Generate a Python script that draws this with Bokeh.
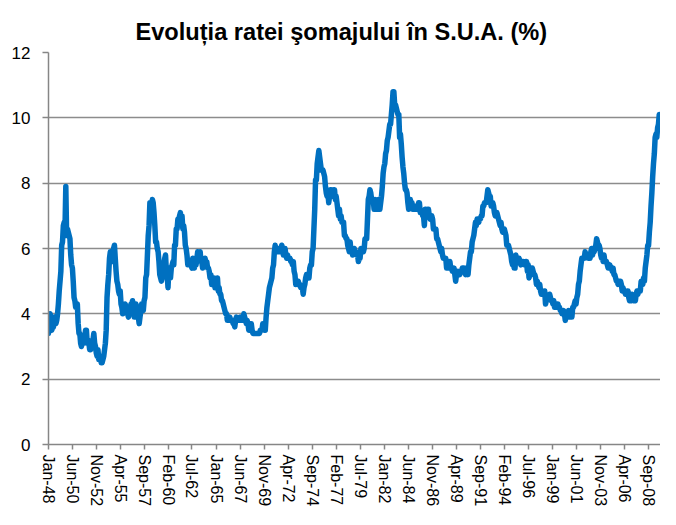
import numpy as np
from bokeh.plotting import figure
from bokeh.models import FixedTicker, Range1d
from bokeh.embed import file_html
from bokeh.resources import INLINE

# Monthly US unemployment rate (%), Jan 1948 - Nov 2009
rate_1948_1957 = [
    3.4, 3.8, 4.0, 3.9, 3.5, 3.6, 3.6, 3.9, 3.8, 3.7, 3.8, 4.0,
    4.3, 4.7, 5.0, 5.3, 6.1, 6.2, 6.7, 6.8, 6.6, 7.9, 6.4, 6.6,
    6.5, 6.4, 6.3, 5.8, 5.5, 5.4, 5.0, 4.5, 4.4, 4.2, 4.2, 4.3,
    3.7, 3.4, 3.4, 3.1, 3.0, 3.2, 3.1, 3.1, 3.3, 3.5, 3.5, 3.1,
    3.2, 3.1, 2.9, 2.9, 3.0, 3.0, 3.2, 3.4, 3.1, 3.0, 2.8, 2.7,
    2.9, 2.6, 2.6, 2.7, 2.5, 2.5, 2.6, 2.7, 2.9, 3.1, 3.5, 4.5,
    4.9, 5.2, 5.7, 5.9, 5.9, 5.6, 5.8, 6.0, 6.1, 5.7, 5.3, 5.0,
    4.9, 4.7, 4.6, 4.7, 4.3, 4.2, 4.0, 4.2, 4.1, 4.3, 4.2, 4.2,
    4.0, 3.9, 4.2, 4.0, 4.3, 4.3, 4.4, 4.1, 3.9, 3.9, 4.3, 4.2,
    4.2, 3.9, 3.7, 3.9, 4.1, 4.3, 4.2, 4.1, 4.4, 4.5, 5.1, 5.2,
]
rate_1958_1967 = [
    5.8, 6.4, 6.7, 7.4, 7.4, 7.3, 7.5, 7.4, 7.1, 6.7, 6.2, 6.2,
    6.0, 5.9, 5.6, 5.2, 5.1, 5.0, 5.1, 5.2, 5.5, 5.7, 5.8, 5.3,
    5.2, 4.8, 5.4, 5.2, 5.1, 5.4, 5.5, 5.6, 5.5, 6.1, 6.1, 6.6,
    6.6, 6.9, 6.9, 7.0, 7.1, 6.9, 7.0, 6.6, 6.7, 6.5, 6.1, 6.0,
    5.8, 5.5, 5.6, 5.6, 5.5, 5.5, 5.4, 5.7, 5.6, 5.4, 5.7, 5.5,
    5.7, 5.9, 5.7, 5.7, 5.9, 5.6, 5.6, 5.4, 5.5, 5.5, 5.7, 5.5,
    5.6, 5.4, 5.4, 5.3, 5.1, 5.2, 4.9, 5.0, 5.1, 5.1, 4.8, 5.0,
    4.9, 5.1, 4.7, 4.8, 4.6, 4.6, 4.4, 4.4, 4.3, 4.2, 4.1, 4.0,
    4.0, 3.8, 3.8, 3.8, 3.9, 3.8, 3.8, 3.8, 3.7, 3.7, 3.6, 3.8,
    3.9, 3.8, 3.8, 3.8, 3.8, 3.9, 3.8, 3.8, 3.8, 4.0, 3.9, 3.8,
]
rate_1968_1977 = [
    3.7, 3.8, 3.7, 3.5, 3.5, 3.7, 3.7, 3.5, 3.4, 3.4, 3.4, 3.4,
    3.4, 3.4, 3.4, 3.4, 3.4, 3.5, 3.5, 3.5, 3.7, 3.7, 3.5, 3.5,
    3.9, 4.2, 4.4, 4.6, 4.8, 4.9, 5.0, 5.1, 5.4, 5.5, 5.9, 6.1,
    5.9, 5.9, 6.0, 5.9, 5.9, 5.9, 6.0, 6.1, 6.0, 5.8, 6.0, 6.0,
    5.8, 5.7, 5.8, 5.7, 5.7, 5.7, 5.6, 5.6, 5.5, 5.6, 5.3, 5.2,
    4.9, 5.0, 4.9, 5.0, 4.9, 4.9, 4.8, 4.8, 4.8, 4.6, 4.8, 4.9,
    5.1, 5.2, 5.1, 5.1, 5.1, 5.4, 5.5, 5.5, 5.9, 6.0, 6.6, 7.2,
    8.1, 8.1, 8.6, 8.8, 9.0, 8.8, 8.6, 8.4, 8.4, 8.4, 8.3, 8.2,
    7.9, 7.7, 7.6, 7.7, 7.4, 7.6, 7.8, 7.8, 7.6, 7.7, 7.8, 7.8,
    7.5, 7.6, 7.4, 7.2, 7.0, 7.2, 6.9, 7.0, 6.8, 6.8, 6.8, 6.4,
]
rate_1978_1987 = [
    6.4, 6.3, 6.3, 6.1, 6.0, 5.9, 6.2, 5.9, 6.0, 5.8, 5.9, 6.0,
    5.9, 5.9, 5.8, 5.8, 5.6, 5.7, 5.7, 6.0, 5.9, 6.0, 5.9, 6.0,
    6.3, 6.3, 6.3, 6.9, 7.5, 7.6, 7.8, 7.7, 7.5, 7.5, 7.5, 7.2,
    7.5, 7.4, 7.4, 7.2, 7.5, 7.5, 7.2, 7.4, 7.6, 7.9, 8.3, 8.5,
    8.6, 8.9, 9.0, 9.3, 9.4, 9.6, 9.8, 9.8, 10.1, 10.4, 10.8, 10.8,
    10.4, 10.4, 10.3, 10.2, 10.1, 10.1, 9.4, 9.5, 9.2, 8.8, 8.5, 8.3,
    8.0, 7.8, 7.8, 7.7, 7.4, 7.2, 7.5, 7.5, 7.3, 7.4, 7.2, 7.3,
    7.3, 7.2, 7.2, 7.3, 7.2, 7.4, 7.4, 7.1, 7.1, 7.1, 7.0, 7.0,
    6.7, 7.2, 7.2, 7.1, 7.2, 7.2, 7.0, 6.9, 7.0, 7.0, 6.9, 6.6,
    6.6, 6.6, 6.6, 6.3, 6.3, 6.2, 6.1, 6.0, 5.9, 6.0, 5.8, 5.7,
]
rate_1988_1997 = [
    5.7, 5.7, 5.7, 5.4, 5.6, 5.4, 5.4, 5.6, 5.4, 5.4, 5.3, 5.3,
    5.4, 5.2, 5.0, 5.2, 5.2, 5.3, 5.2, 5.2, 5.3, 5.3, 5.4, 5.4,
    5.4, 5.3, 5.2, 5.4, 5.4, 5.2, 5.5, 5.7, 5.9, 5.9, 6.2, 6.3,
    6.4, 6.6, 6.8, 6.7, 6.9, 6.9, 6.8, 6.9, 6.9, 7.0, 7.0, 7.3,
    7.3, 7.4, 7.4, 7.4, 7.6, 7.8, 7.7, 7.6, 7.6, 7.3, 7.4, 7.4,
    7.3, 7.1, 7.0, 7.1, 7.1, 7.0, 6.9, 6.8, 6.7, 6.8, 6.6, 6.5,
    6.6, 6.6, 6.5, 6.4, 6.1, 6.1, 6.1, 6.0, 5.9, 5.8, 5.6, 5.5,
    5.6, 5.4, 5.4, 5.8, 5.6, 5.6, 5.7, 5.7, 5.6, 5.5, 5.6, 5.6,
    5.6, 5.5, 5.5, 5.6, 5.6, 5.3, 5.5, 5.1, 5.2, 5.2, 5.4, 5.4,
    5.3, 5.2, 5.2, 5.1, 4.9, 5.0, 4.9, 4.8, 4.9, 4.7, 4.6, 4.7,
]
rate_1998_2009 = [
    4.6, 4.6, 4.7, 4.3, 4.4, 4.5, 4.5, 4.5, 4.6, 4.5, 4.4, 4.4,
    4.3, 4.4, 4.2, 4.3, 4.2, 4.3, 4.3, 4.2, 4.2, 4.1, 4.1, 4.0,
    4.0, 4.1, 4.0, 3.8, 4.0, 4.0, 4.0, 4.1, 3.9, 3.9, 3.9, 3.9,
    4.2, 4.2, 4.3, 4.4, 4.3, 4.5, 4.6, 4.9, 5.0, 5.3, 5.5, 5.7,
    5.7, 5.7, 5.7, 5.9, 5.8, 5.8, 5.8, 5.7, 5.7, 5.7, 5.9, 6.0,
    5.8, 5.9, 5.9, 6.0, 6.1, 6.3, 6.2, 6.1, 6.1, 6.0, 5.8, 5.7,
    5.7, 5.6, 5.8, 5.6, 5.6, 5.6, 5.5, 5.4, 5.4, 5.5, 5.4, 5.4,
    5.3, 5.4, 5.2, 5.2, 5.1, 5.0, 5.0, 4.9, 5.0, 5.0, 5.0, 4.9,
    4.7, 4.8, 4.7, 4.7, 4.6, 4.6, 4.7, 4.7, 4.5, 4.4, 4.5, 4.4,
    4.6, 4.5, 4.4, 4.5, 4.4, 4.6, 4.7, 4.6, 4.7, 4.7, 4.7, 5.0,
    5.0, 4.9, 5.1, 5.0, 5.4, 5.6, 5.8, 6.1, 6.1, 6.5, 6.8, 7.3,
    7.7, 8.2, 8.6, 8.9, 9.4, 9.5, 9.4, 9.7, 9.8, 10.1, 10.0,
]

tick_labels = ["Jan-48", "Jun-50", "Nov-52", "Apr-55", "Sep-57", "Feb-60",
               "Jul-62", "Jan-65", "Jun-67", "Nov-69", "Apr-72", "Sep-74",
               "Feb-77", "Jul-79", "Jan-82", "Jun-84", "Nov-86", "Apr-89",
               "Sep-91", "Feb-94", "Jul-96", "Jan-99", "Jun-01", "Nov-03",
               "Apr-06", "Sep-08"]
y_ticks = [0, 2, 4, 6, 8, 10, 12]

title_text = "Evoluția ratei şomajului în S.U.A. (%)"

rates = np.concatenate([rate_1948_1957, rate_1958_1967, rate_1968_1977,
                        rate_1978_1987, rate_1988_1997, rate_1998_2009])
months = np.arange(len(rates))  # 0 = Jan 1948

month_abbr = ["Jan", "Feb", "Mar", "Apr", "May", "Jun",
              "Jul", "Aug", "Sep", "Oct", "Nov", "Dec"]


def label_to_index(lbl):
    m, y = lbl.split("-")
    yy = int(y)
    year = 1900 + yy if yy >= 40 else 2000 + yy
    return (year - 1948) * 12 + month_abbr.index(m)


tick_pos = [label_to_index(l) for l in tick_labels]

FONT = "Liberation Sans"

p = figure(width=660, height=509, output_backend="svg", toolbar_location=None,
           x_range=Range1d(0, len(rates) - 0.5), y_range=Range1d(0, 12),
           min_border_left=48, min_border_right=0, min_border_top=52,
           min_border_bottom=0)

p.title.text = title_text
p.title.text_font = FONT
p.title.text_font_size = "23.6px"
p.title.text_font_style = "bold"
p.title.text_color = "#000000"
p.title.align = "left"
p.title.offset = 87
p.title.standoff = 15

p.outline_line_color = None
p.background_fill_color = "white"
p.border_fill_color = "white"

# axes
p.yaxis.ticker = FixedTicker(ticks=y_ticks)
p.yaxis.axis_line_color = "#868686"
p.yaxis.axis_line_width = 1.5
p.yaxis.major_tick_line_color = "#868686"
p.yaxis.major_tick_line_width = 1.5
p.yaxis.major_tick_out = 6
p.yaxis.major_tick_in = 0
p.yaxis.minor_tick_line_color = None
p.yaxis.major_label_standoff = 12
p.yaxis.major_label_text_font = FONT
p.yaxis.major_label_text_font_size = "17px"
p.yaxis.major_label_text_color = "#000000"

p.xaxis.ticker = FixedTicker(ticks=tick_pos)
p.xaxis.major_label_overrides = {t: l for t, l in zip(tick_pos, tick_labels)}
p.xaxis.major_label_orientation = "vertical"
p.xaxis.axis_line_color = "#868686"
p.xaxis.axis_line_width = 1.5
p.xaxis.major_tick_line_color = "#868686"
p.xaxis.major_tick_line_width = 1.5
p.xaxis.major_tick_out = 5
p.xaxis.major_tick_in = 0
p.xaxis.minor_tick_line_color = None
p.xaxis.major_label_standoff = 5
p.xaxis.major_label_text_font = FONT
p.xaxis.major_label_text_font_size = "16px"
p.xaxis.major_label_text_color = "#000000"

p.xgrid.grid_line_color = None
p.ygrid.ticker = FixedTicker(ticks=y_ticks)
p.ygrid.grid_line_color = "#8c8c8c"
p.ygrid.grid_line_width = 1.5

p.line(months, rates, line_color="#0070C0", line_width=5.5,
       line_join="round", line_cap="round")

open("out.html", "w").write(file_html(p, INLINE))
